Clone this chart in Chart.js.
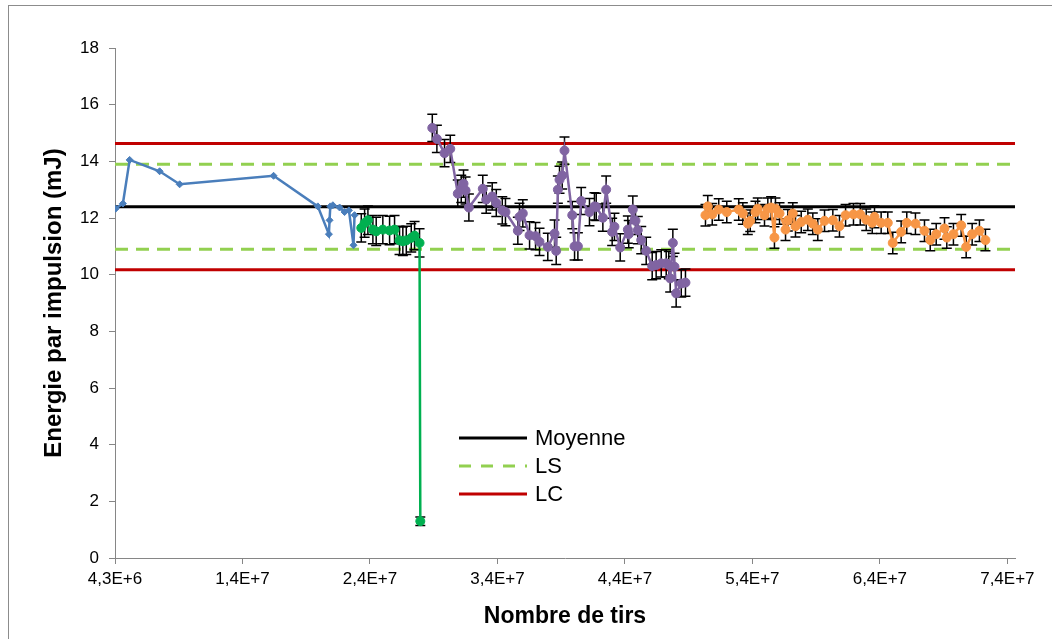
<!DOCTYPE html>
<html>
<head>
<meta charset="utf-8">
<script src="https://cdn.jsdelivr.net/npm/chart.js@4.4.1/dist/chart.umd.min.js"></script>
<style>
    html, body { margin: 0; padding: 0; background: #fff; }
    #wrap { position: relative; width: 1052px; height: 639px; }
    #frame {
        position: absolute; left: 8px; top: 5px; right: 0; bottom: 0;
        border-left: 1px solid #8c8c8c; border-top: 1px solid #8c8c8c;
        pointer-events: none;
    }
</style>
</head>
<body>
<div id="wrap">
    <canvas id="chart" width="1052" height="639"></canvas>
    <div id="frame"></div>
</div>
<script>
/* --- Data (x = nombre de tirs, y = energie en mJ) --- */
const blueX = [4.35e6, 4.92e6, 5.45e6, 7.80e6, 9.37e6, 16.74e6, 20.21e6, 21.08e6, 21.13e6, 21.19e6,
    21.39e6, 21.92e6, 22.31e6, 22.65e6, 23.01e6, 23.09e6];
const blueY = [12.33, 12.51, 14.05, 13.65, 13.19, 13.49, 12.41, 11.43, 11.92, 12.41,
    12.45, 12.37, 12.21, 12.27, 11.04, 12.10];

const greenX = [23.62e6, 23.88e6, 24.14e6, 24.53e6, 24.79e6, 25.31e6, 25.84e6, 26.23e6, 26.62e6, 26.88e6,
    27.15e6, 27.54e6, 27.80e6, 28.19e6, 28.25e6];
const greenY = [11.65, 11.82, 11.92, 11.59, 11.53, 11.59, 11.56, 11.59, 11.21, 11.18,
    11.21, 11.30, 11.38, 11.12, 1.30];
const greenErr = [0.5, 0.5, 0.5, 0.5, 0.5, 0.5, 0.5, 0.5, 0.5, 0.5,
    0.5, 0.5, 0.5, 0.5, 0.15];

const purpleX = [29.19e6, 29.55e6, 30.15e6, 30.60e6, 31.19e6, 31.46e6, 31.64e6, 31.80e6, 32.06e6, 33.15e6,
    33.42e6, 33.89e6, 34.21e6, 34.68e6, 34.93e6, 35.90e6, 36.03e6, 36.29e6, 36.82e6, 37.29e6,
    37.60e6, 38.25e6, 38.78e6, 38.91e6, 39.04e6, 39.17e6, 39.38e6, 39.56e6, 40.17e6, 40.35e6,
    40.61e6, 40.87e6, 41.52e6, 41.91e6, 42.05e6, 42.57e6, 42.83e6, 43.30e6, 43.48e6, 43.93e6,
    44.53e6, 44.60e6, 44.92e6, 45.13e6, 45.31e6, 45.58e6, 45.97e6, 46.44e6, 46.75e6, 47.15e6,
    47.54e6, 47.74e6, 47.85e6, 48.06e6, 48.19e6, 48.32e6, 48.72e6, 49.05e6];
const purpleY = [15.18, 14.79, 14.29, 14.44, 12.86, 13.03, 13.21, 12.97, 12.37, 13.03,
    12.65, 12.76, 12.53, 12.27, 12.21, 11.55, 12.04, 12.16, 11.39, 11.36,
    11.16, 10.98, 11.45, 10.84, 13.00, 13.35, 13.50, 14.38, 12.10, 11.00,
    11.00, 12.60, 12.21, 12.41, 12.39, 12.01, 13.00, 11.51, 11.69, 10.96,
    11.59, 11.43, 12.30, 11.90, 11.57, 11.22, 10.84, 10.30, 10.34, 10.40,
    10.40, 10.34, 9.87, 11.12, 10.28, 9.34, 9.69, 9.72];
const purpleErr = 0.48;

const orangeX = [50.62e6, 50.80e6, 51.15e6, 51.66e6, 52.29e6, 53.23e6, 53.55e6, 53.94e6, 54.13e6, 54.54e6,
    54.72e6, 55.25e6, 55.51e6, 55.77e6, 56.03e6, 56.11e6, 56.43e6, 56.90e6, 57.08e6, 57.47e6,
    57.68e6, 58.13e6, 58.65e6, 59.04e6, 59.43e6, 59.96e6, 60.61e6, 61.13e6, 61.61e6, 62.23e6,
    62.76e6, 63.23e6, 63.70e6, 63.88e6, 64.40e6, 64.92e6, 65.31e6, 65.97e6, 66.41e6, 67.09e6,
    67.80e6, 68.25e6, 68.72e6, 69.37e6, 69.55e6, 70.07e6, 70.68e6, 71.07e6, 71.54e6, 72.11e6,
    72.58e6];
const orangeY = [12.10, 12.41, 12.13, 12.30, 12.21, 12.30, 12.16, 11.80, 11.90, 12.21,
    12.33, 12.10, 12.33, 12.37, 11.31, 12.33, 12.16, 11.59, 11.92, 12.16,
    11.71, 11.86, 11.94, 11.80, 11.59, 11.90, 11.92, 11.71, 12.10, 12.13,
    12.13, 11.94, 11.83, 12.04, 11.83, 11.83, 11.12, 11.51, 11.83, 11.80,
    11.55, 11.22, 11.43, 11.63, 11.31, 11.43, 11.74, 10.98, 11.43, 11.55,
    11.22];
const orangeErr = 0.38;

// reference lines: Moyenne, LS (haut/bas), LC (haut/bas)
const refLabels = ['Moyenne', 'LS', 'LC'];
const moyenne = 12.40;
const lsValues = [13.90, 10.90];
const lcValues = [14.63, 10.17];

// axes
const xMin = 4.3e6;
const xMax = 7.49e7;
const xTickValues = [4.3e6, 1.43e7, 2.43e7, 3.43e7, 4.43e7, 5.43e7, 6.43e7, 7.43e7];
const xTickLabels = ['4,3E+6', '1,4E+7', '2,4E+7', '3,4E+7', '4,4E+7', '5,4E+7', '6,4E+7', '7,4E+7'];
const yMin = 0, yMax = 18, yStep = 2;

/* --- Helpers --- */
const FONT = '"Liberation Sans", Arial, sans-serif';
const zip = (xs, ys) => xs.map((x, i) => ({ x: x, y: ys[i] }));
const hline = v => [{ x: xMin, y: v }, { x: xMax, y: v }];

const refStyle = {
    Moyenne: { color: '#000000', dash: [] },
    LS: { color: '#92D050', dash: [13, 8] },
    LC: { color: '#C00000', dash: [] }
};

function refDataset(label, v) {
    return {
        label: label,
        data: hline(v),
        showLine: true,
        borderColor: refStyle[label].color,
        borderWidth: 3,
        borderDash: refStyle[label].dash,
        pointRadius: 0,
        order: 10
    };
}

function seriesDataset(data, color, opts) {
    return Object.assign({
        data: data,
        showLine: true,
        borderColor: color,
        backgroundColor: color,
        pointBackgroundColor: color,
        pointBorderColor: color,
        borderWidth: 2.5,
        pointRadius: 4,
        pointBorderWidth: 1,
        order: 1
    }, opts);
}

/* --- Plugins --- */
// error bars drawn just under each series
const errorBars = {
    id: 'errorBars',
    beforeDatasetDraw(chart, args) {
        const ds = chart.data.datasets[args.index];
        if (ds.errors === undefined) return;
        const ctx = chart.ctx;
        const xs = chart.scales.x, ys = chart.scales.y;
        ctx.save();
        ctx.strokeStyle = '#000';
        ctx.lineWidth = 1.5;
        ds.data.forEach((p, i) => {
            const e = Array.isArray(ds.errors) ? ds.errors[i] : ds.errors;
            const px = xs.getPixelForValue(p.x);
            const top = ys.getPixelForValue(p.y + e);
            const bot = ys.getPixelForValue(p.y - e);
            ctx.beginPath();
            ctx.moveTo(px, top); ctx.lineTo(px, bot);
            ctx.moveTo(px - 5, top); ctx.lineTo(px + 5, top);
            ctx.moveTo(px - 5, bot); ctx.lineTo(px + 5, bot);
            ctx.stroke();
        });
        ctx.restore();
    }
};

// legend inside the plot (only the three reference lines)
const insideLegend = {
    id: 'insideLegend',
    afterDraw(chart) {
        const ctx = chart.ctx;
        ctx.save();
        refLabels.forEach((label, i) => {
            const yy = 438 + i * 28;
            ctx.strokeStyle = refStyle[label].color;
            ctx.lineWidth = 3;
            ctx.setLineDash(label === 'LS' ? [12, 10] : []);
            ctx.beginPath();
            ctx.moveTo(459, yy);
            ctx.lineTo(527, yy);
            ctx.stroke();
            ctx.setLineDash([]);
            ctx.fillStyle = '#000';
            ctx.font = '22px ' + FONT;
            ctx.textBaseline = 'middle';
            ctx.fillText(label, 535, yy + 1);
        });
        ctx.restore();
    }
};

/* --- Chart --- */
const ctx = document.getElementById('chart').getContext('2d');

new Chart(ctx, {
    type: 'scatter',
    data: {
        datasets: [
            refDataset('Moyenne', moyenne),
            refDataset('LS', lsValues[0]),
            refDataset('LS', lsValues[1]),
            refDataset('LC', lcValues[0]),
            refDataset('LC', lcValues[1]),
            seriesDataset(zip(blueX, blueY), '#4A7EBB', { pointStyle: 'rectRot', pointRadius: 3.5, borderWidth: 2.5 }),
            seriesDataset(zip(greenX, greenY), '#00B050', { errors: greenErr, pointRadius: 4.5 }),
            seriesDataset(zip(purpleX, purpleY), '#8064A2', { errors: purpleErr, pointRadius: 4.5 }),
            seriesDataset(zip(orangeX, orangeY), '#F79646', { errors: orangeErr, pointRadius: 4.5 })
        ]
    },
    options: {
        responsive: false,
        animation: false,
        devicePixelRatio: 1,
        layout: { padding: { left: 0, top: 48, right: 37, bottom: 0 } },
        plugins: {
            legend: { display: false },
            tooltip: { enabled: false }
        },
        scales: {
            x: {
                type: 'linear',
                min: xMin,
                max: xMax,
                afterBuildTicks: scale => { scale.ticks = xTickValues.map(v => ({ value: v })); },
                afterFit: scale => { scale.height = 81; },
                ticks: {
                    callback: (value, index) => xTickLabels[index],
                    color: '#000',
                    font: { family: FONT, size: 17 },
                    padding: 5,
                    maxRotation: 0,
                    autoSkip: false
                },
                grid: { drawOnChartArea: false, drawTicks: true, tickLength: 6, color: '#868686' },
                border: { color: '#868686', width: 1 },
                title: {
                    display: true,
                    text: 'Nombre de tirs',
                    color: '#000',
                    font: { family: FONT, size: 23, weight: 'bold' },
                    padding: { top: 0, bottom: 9 }
                }
            },
            y: {
                min: yMin,
                max: yMax,
                afterFit: scale => { scale.width = 115; },
                ticks: {
                    stepSize: yStep,
                    color: '#000',
                    font: { family: FONT, size: 17 },
                    padding: 10
                },
                grid: { drawOnChartArea: false, drawTicks: true, tickLength: 6, color: '#868686' },
                border: { color: '#868686', width: 1 },
                title: {
                    display: true,
                    text: 'Energie par impulsion (mJ)',
                    color: '#000',
                    font: { family: FONT, size: 24, weight: 'bold' },
                    padding: { top: 40, bottom: 0 }
                }
            }
        }
    },
    plugins: [errorBars, insideLegend]
});
</script>
</body>
</html>
